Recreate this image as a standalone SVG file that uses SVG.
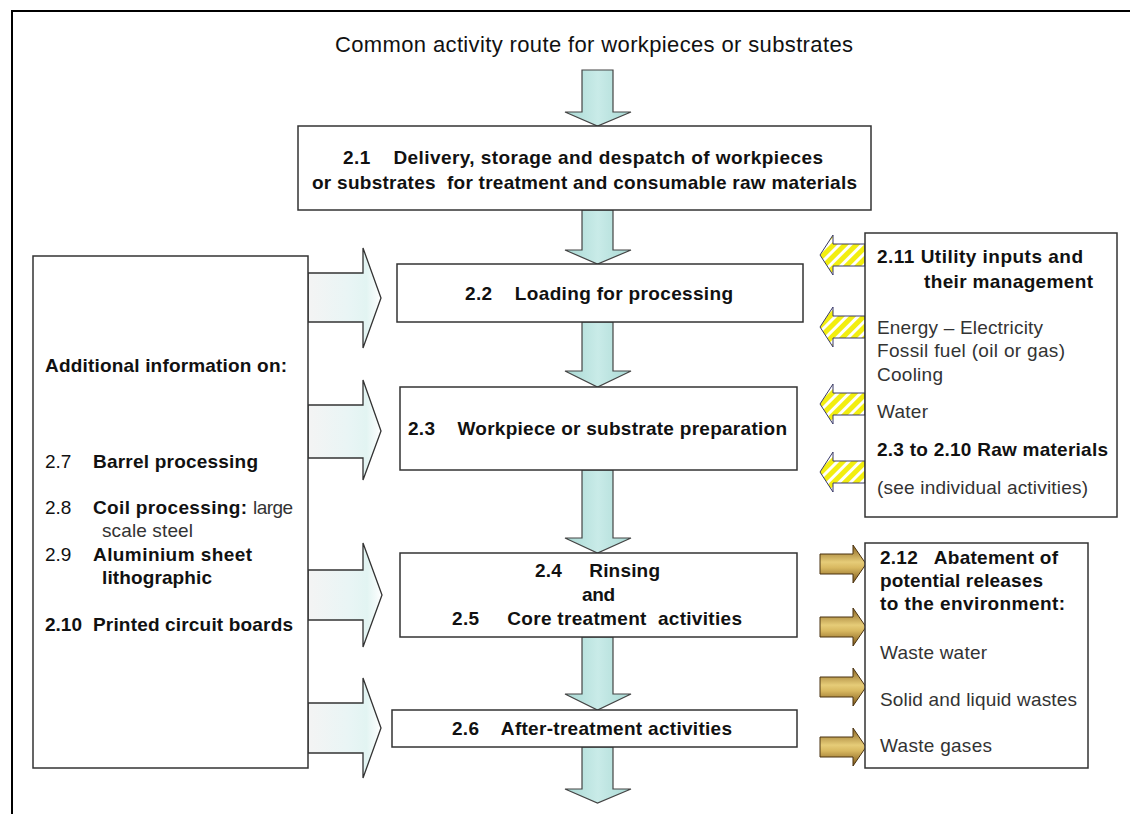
<svg xmlns="http://www.w3.org/2000/svg" width="1130" height="814" viewBox="0 0 1130 814">
<defs>
<style>
.t{font-family:"Liberation Sans",Arial,sans-serif;fill:#111;font-size:19px}
.b{font-weight:bold}
.r{font-family:"Liberation Sans",Arial,sans-serif;fill:#333;font-size:19px}
.box{fill:#fff;stroke:#333;stroke-width:1.5}
.down{fill:url(#gDown);stroke:#444;stroke-width:1.2}
.side{fill:url(#gSide);stroke:#333;stroke-width:1.3}
.yel{fill:url(#pYel);stroke:#3a3a6a;stroke-width:1}
.brn{fill:url(#gBrn);stroke:#4a3210;stroke-width:1}
</style>
<linearGradient id="gDown" x1="0" y1="0" x2="1" y2="0">
<stop offset="0" stop-color="#a9d9d4"/>
<stop offset="0.5" stop-color="#c9ebe8"/>
<stop offset="1" stop-color="#a9d9d4"/>
</linearGradient>
<linearGradient id="gSide" x1="0" y1="0" x2="1" y2="0">
<stop offset="0" stop-color="#f4f4f4"/>
<stop offset="0.55" stop-color="#e9f5f5"/>
<stop offset="0.8" stop-color="#e2f4f2"/>
<stop offset="1" stop-color="#ffffff"/>
</linearGradient>
<pattern id="pYel" width="8" height="8" patternUnits="userSpaceOnUse" patternTransform="rotate(45)">
<rect width="8" height="8" fill="#ffffff"/>
<rect width="5" height="8" fill="#f2ee10"/>
</pattern>
<linearGradient id="gBrn" x1="0" y1="0" x2="0" y2="1">
<stop offset="0" stop-color="#8a6420"/>
<stop offset="0.45" stop-color="#e6cc78"/>
<stop offset="0.6" stop-color="#d8b860"/>
<stop offset="1" stop-color="#7a5418"/>
</linearGradient>
</defs>
<rect width="1130" height="814" fill="#fff"/>
<rect x="12" y="11" width="1130" height="820" fill="none" stroke="#000" stroke-width="2"/>

<text class="t" x="335" y="52" style="font-size:22px" textLength="518">Common activity route for workpieces or substrates</text>

<g id="connectors">
<polygon class="down" points="582,70 613,70 613,112 631,112 597.5,126 565,112 582,112"/>
<polygon class="down" points="582,210 613,210 613,250 631,250 597.5,264 565,250 582,250"/>
<polygon class="down" points="582,322 613,322 613,371 631,371 597.5,387 565,371 582,371"/>
<polygon class="down" points="582,470 613,470 613,538 631,538 597.5,553 565,538 582,538"/>
<polygon class="down" points="582,637 613,637 613,694 631,694 597.5,710 565,694 582,694"/>
<polygon class="down" points="582,747 613,747 613,789 631,789 597.5,803 565,789 582,789"/>

<polygon class="side" points="308,273 363,273 363,248 381,298 363,348 363,322 308,322"/>
<polygon class="side" points="308,405 363,405 363,380 381,431 363,480 363,458 308,458"/>
<polygon class="side" points="308,570 363,570 363,543 382,595 363,647 363,620 308,620"/>
<polygon class="side" points="308,703 363,703 363,678 381,728 363,778 363,753 308,753"/>

<polygon class="yel" points="865,244 833,244 833,235 820,255 833,275 833,266 865,266"/>
<polygon class="yel" points="865,316 833,316 833,307 820,327 833,347 833,338 865,338"/>
<polygon class="yel" points="865,393 833,393 833,384 820,404 833,424 833,415 865,415"/>
<polygon class="yel" points="865,461 833,461 833,452 820,472 833,492 833,483 865,483"/>

<polygon class="brn" points="820,554 853,554 853,545 866,564 853,583 853,574 820,574"/>
<polygon class="brn" points="820,617 853,617 853,608 866,627 853,646 853,637 820,637"/>
<polygon class="brn" points="820,677 853,677 853,668 866,687 853,706 853,697 820,697"/>
<polygon class="brn" points="820,737 853,737 853,728 866,747 853,766 853,757 820,757"/>
</g>

<g id="n21">
<rect class="box" x="298" y="126" width="573" height="84"/>
<text class="t b" x="343" y="164" textLength="480" xml:space="preserve">2.1    Delivery, storage and despatch of workpieces</text>
<text class="t b" x="312" y="189" textLength="545" xml:space="preserve">or substrates  for treatment and consumable raw materials</text>
</g>

<g id="n22">
<rect class="box" x="397" y="264" width="406" height="58"/>
<text class="t b" x="465" y="300" textLength="268" xml:space="preserve">2.2    Loading for processing</text>
</g>

<g id="n23">
<rect class="box" x="400" y="387" width="397" height="83"/>
<text class="t b" x="408" y="435" textLength="379" xml:space="preserve">2.3    Workpiece or substrate preparation</text>
</g>

<g id="n24">
<rect class="box" x="400" y="553" width="397" height="84"/>
<text class="t b" x="535" y="577" textLength="125" xml:space="preserve">2.4     Rinsing</text>
<text class="t b" x="582" y="601" textLength="33">and</text>
<text class="t b" x="452" y="625" textLength="290" xml:space="preserve">2.5     Core treatment  activities</text>
</g>

<g id="n26">
<rect class="box" x="392" y="710" width="405" height="37"/>
<text class="t b" x="452" y="735" textLength="280" xml:space="preserve">2.6    After-treatment activities</text>
</g>

<g id="left">
<rect class="box" x="33" y="256" width="275" height="512"/>
<text class="t b" x="45" y="372" textLength="242">Additional information on:</text>
<text class="t" x="45" y="468">2.7</text>
<text class="t b" x="93" y="468" textLength="165">Barrel processing</text>
<text class="t" x="45" y="514">2.8</text>
<text class="t b" x="93" y="514" textLength="154">Coil processing:</text>
<text class="r" x="253" y="514" textLength="40">large</text>
<text class="r" x="102" y="537" textLength="91">scale steel</text>
<text class="t" x="45" y="561">2.9</text>
<text class="t b" x="93" y="561" textLength="159">Aluminium sheet</text>
<text class="t b" x="102" y="584" textLength="110">lithographic</text>
<text class="t b" x="45" y="631" textLength="37">2.10</text>
<text class="t b" x="93" y="631" textLength="200">Printed circuit boards</text>
</g>

<g id="n211">
<rect class="box" x="865" y="233" width="252" height="284"/>
<text class="t b" x="877" y="263" textLength="206">2.11 Utility inputs and</text>
<text class="t b" x="924" y="288" textLength="169">their management</text>
<text class="r" x="877" y="334" textLength="166">Energy – Electricity</text>
<text class="r" x="877" y="357" textLength="188">Fossil fuel (oil or gas)</text>
<text class="r" x="877" y="381" textLength="66">Cooling</text>
<text class="r" x="877" y="418" textLength="51">Water</text>
<text class="t b" x="877" y="456" textLength="231">2.3 to 2.10 Raw materials</text>
<text class="r" x="877" y="494" textLength="211">(see individual activities)</text>
</g>

<g id="n212">
<rect class="box" x="865" y="543" width="223" height="225"/>
<text class="t b" x="880" y="564" textLength="178" xml:space="preserve">2.12   Abatement of</text>
<text class="t b" x="880" y="587" textLength="163">potential releases</text>
<text class="t b" x="880" y="610" textLength="185">to the environment:</text>
<text class="r" x="880" y="659" textLength="107">Waste water</text>
<text class="r" x="880" y="706" textLength="197">Solid and liquid wastes</text>
<text class="r" x="880" y="752" textLength="112">Waste gases</text>
</g>
</svg>
